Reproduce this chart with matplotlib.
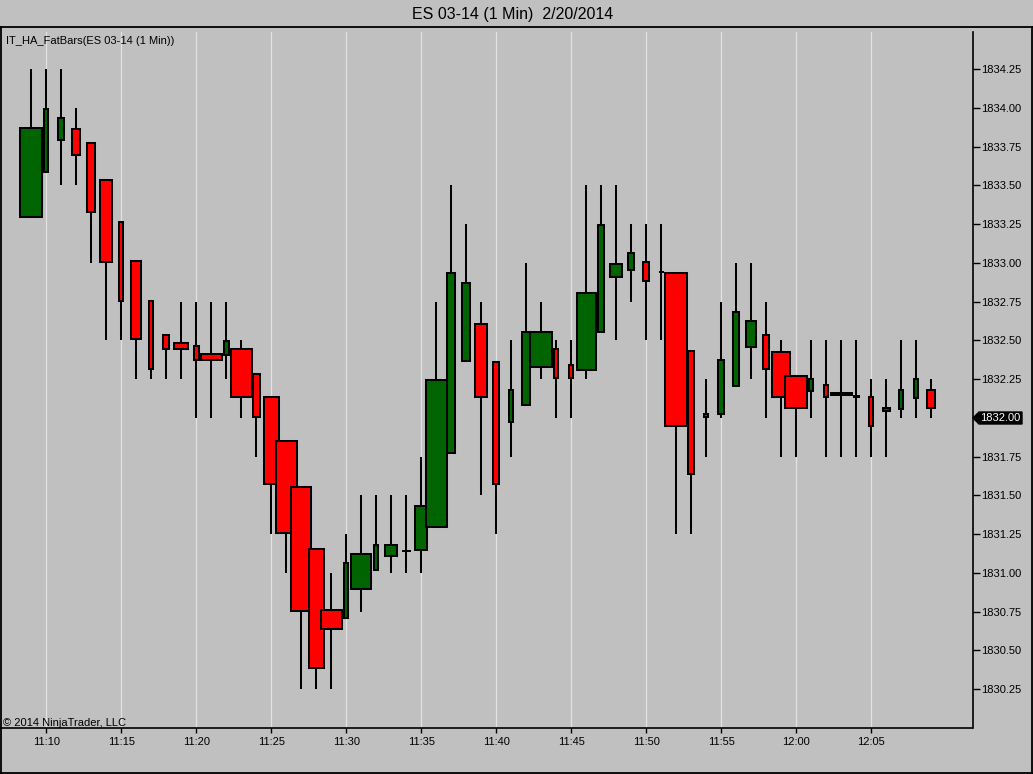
import matplotlib
matplotlib.use("Agg")
import matplotlib.pyplot as plt
from matplotlib.patches import Rectangle, Polygon
from matplotlib.lines import Line2D
from matplotlib.transforms import blended_transform_factory

plt.rcParams['font.family'] = ['Liberation Sans', 'DejaVu Sans']

# ---------------- data ----------------
chart_title = "ES 03-14 (1 Min)  2/20/2014"
indicator_label = "IT_HA_FatBars(ES 03-14 (1 Min))"
copyright_text = "\u00a9 2014 NinjaTrader, LLC"

times = ["11:09", "11:10", "11:11", "11:12", "11:13", "11:14", "11:15", "11:16",
         "11:17", "11:18", "11:19", "11:20", "11:21", "11:22", "11:23", "11:24",
         "11:25", "11:26", "11:27", "11:28", "11:29", "11:30", "11:31", "11:32",
         "11:33", "11:34", "11:35", "11:36", "11:37", "11:38", "11:39", "11:40",
         "11:41", "11:42", "11:43", "11:44", "11:45", "11:46", "11:47", "11:48",
         "11:49", "11:50", "11:51", "11:52", "11:53", "11:54", "11:55", "11:56",
         "11:57", "11:58", "11:59", "12:00", "12:01", "12:02", "12:03", "12:04",
         "12:05", "12:06", "12:07", "12:08", "12:09"]

ha_open = [1833.29, 1833.58, 1833.79, 1833.87, 1833.78, 1833.54, 1833.27, 1833.02,
           1832.76, 1832.54, 1832.49, 1832.47, 1832.42, 1832.40, 1832.45, 1832.29,
           1832.14, 1831.86, 1831.56, 1831.16, 1830.77, 1830.70, 1830.89, 1831.01,
           1831.10, 1831.14, 1831.14, 1831.29, 1831.77, 1832.36, 1832.61, 1832.37,
           1831.97, 1832.08, 1832.32, 1832.45, 1832.35, 1832.30, 1832.55, 1832.90,
           1832.95, 1833.01, 1832.94, 1832.94, 1832.44, 1832.03, 1832.02, 1832.20,
           1832.45, 1832.54, 1832.43, 1832.28, 1832.17, 1832.22, 1832.17, 1832.15,
           1832.14, 1832.04, 1832.05, 1832.12, 1832.19]

ha_close = [1833.88, 1834.00, 1833.94, 1833.69, 1833.32, 1833.00, 1832.75, 1832.50,
            1832.31, 1832.44, 1832.44, 1832.37, 1832.37, 1832.50, 1832.13, 1832.00,
            1831.57, 1831.25, 1830.75, 1830.38, 1830.63, 1831.07, 1831.13, 1831.19,
            1831.19, 1831.14, 1831.44, 1832.25, 1832.94, 1832.88, 1832.13, 1831.57,
            1832.19, 1832.56, 1832.56, 1832.25, 1832.25, 1832.81, 1833.25, 1833.00,
            1833.07, 1832.88, 1832.94, 1831.94, 1831.63, 1832.00, 1832.38, 1832.69,
            1832.63, 1832.31, 1832.13, 1832.06, 1832.26, 1832.13, 1832.14, 1832.13,
            1831.94, 1832.07, 1832.19, 1832.26, 1832.06]

bar_high = [1834.25, 1834.25, 1834.25, 1834.00, 1833.78, 1833.54, 1833.27, 1833.02,
            1832.76, 1832.54, 1832.75, 1832.75, 1832.75, 1832.75, 1832.50, 1832.29,
            1832.14, 1831.86, 1831.56, 1831.16, 1831.00, 1831.25, 1831.50, 1831.50,
            1831.50, 1831.50, 1831.75, 1832.75, 1833.50, 1833.25, 1832.75, 1832.37,
            1832.50, 1833.00, 1832.75, 1832.50, 1832.50, 1833.50, 1833.50, 1833.50,
            1833.25, 1833.25, 1833.25, 1832.94, 1832.44, 1832.25, 1832.75, 1833.00,
            1833.00, 1832.75, 1832.50, 1832.28, 1832.50, 1832.50, 1832.50, 1832.50,
            1832.25, 1832.25, 1832.50, 1832.50, 1832.25]

bar_low = [1833.29, 1833.58, 1833.50, 1833.50, 1833.00, 1832.50, 1832.50, 1832.25,
           1832.25, 1832.25, 1832.25, 1832.00, 1832.00, 1832.25, 1832.00, 1831.75,
           1831.25, 1831.00, 1830.25, 1830.25, 1830.25, 1830.70, 1830.75, 1831.01,
           1831.00, 1831.00, 1831.00, 1831.29, 1831.77, 1832.36, 1831.50, 1831.25,
           1831.75, 1832.08, 1832.25, 1832.00, 1832.00, 1832.25, 1832.55, 1832.50,
           1832.75, 1832.50, 1832.50, 1831.25, 1831.25, 1831.75, 1832.00, 1832.20,
           1832.25, 1832.00, 1831.75, 1831.75, 1832.00, 1831.75, 1831.75, 1831.75,
           1831.75, 1831.75, 1832.00, 1832.00, 1832.00]

# relative bar volume (drives the "fat bar" width)
bar_volume = [23.6, 6.0, 7.7, 9.7, 9.7, 13.7, 6.0, 11.7,
              5.7, 7.7, 16.0, 7.3, 22.7, 7.3, 23.0, 9.0,
              17.3, 23.0, 21.7, 17.3, 23.3, 6.0, 21.7, 5.7,
              13.7, 10.7, 13.7, 23.0, 9.7, 9.7, 13.7, 7.7,
              6.0, 9.7, 23.7, 6.0, 6.0, 21.3, 7.7, 13.7,
              7.7, 7.7, 7.0, 23.7, 7.7, 5.7, 8.0, 8.0,
              12.0, 8.0, 20.0, 23.7, 6.3, 6.3, 23.0, 7.0,
              6.0, 8.7, 6.3, 6.0, 9.7]

y_ticks = [1830.25, 1830.50, 1830.75, 1831.00, 1831.25, 1831.50, 1831.75,
           1832.00, 1832.25, 1832.50, 1832.75, 1833.00, 1833.25, 1833.50,
           1833.75, 1834.00, 1834.25]
last_price = 1832.00

# ---------------- style ----------------
BG = "#C0C0C0"
UP = "#006400"
DOWN = "#FF0000"
GRID = "#E2E2E2"
W, H = 1033, 774
PX_PER_BAR = 15.0
PX_PER_POINT = 155.0

fig = plt.figure(figsize=(W / 100, H / 100), dpi=100, facecolor=BG)
left_px, right_px, top_px, bottom_px = 0.0, 972.5, 32.0, 728.3
ax = fig.add_axes([left_px / W, 1 - bottom_px / H,
                   (right_px - left_px) / W, (bottom_px - top_px) / H])
ax.set_facecolor(BG)

n = len(times)
xs = list(range(n))
ax.set_xlim(-31.3 / PX_PER_BAR, (right_px - 31.3) / PX_PER_BAR)
ax.set_ylim(1832.0 - (bottom_px - 418.0) / PX_PER_POINT,
            1832.0 + (418.0 - top_px) / PX_PER_POINT)

border_px = 2.0
dy_in = (border_px / 2) / PX_PER_POINT
for i in xs:
    o, c, hi, lo = ha_open[i], ha_close[i], bar_high[i], bar_low[i]
    ax.plot([i, i], [lo, hi], color="black", lw=1.45, zorder=2,
            solid_capstyle="butt")
    w = (bar_volume[i] - border_px) / PX_PER_BAR
    top, bot = max(o, c), min(o, c)
    h = max(top - bot - 2 * dy_in, 0.0)
    color = UP if c > o else (DOWN if c < o else "black")
    ax.add_patch(Rectangle((i - w / 2, bot + dy_in if h > 0 else bot), w, h,
                           facecolor=color, edgecolor="black", lw=1.45,
                           zorder=3))

# axes / ticks
tick_idx = [i for i, t in enumerate(times) if int(t[-2:]) % 5 == 0]
ax.set_xticks(tick_idx)
ax.set_xticklabels([times[i] for i in tick_idx])
ax.set_yticks(y_ticks)
ax.set_yticklabels([f"{v:.2f}" for v in y_ticks])
ax.yaxis.tick_right()
ax.set_axisbelow(True)
ax.grid(axis="x", color=GRID, lw=0.9)
ax.grid(axis="y", visible=False)
ax.tick_params(axis="y", direction="out", length=4.7, width=1.0, pad=1.2,
               labelsize=8, colors="black")
ax.tick_params(axis="x", direction="out", length=3.6, width=1.0, pad=2.8,
               labelsize=8, colors="black")
for s in ("top", "left"):
    ax.spines[s].set_visible(False)
for s in ("right", "bottom"):
    ax.spines[s].set_color("black")
    ax.spines[s].set_linewidth(1.2)

# last price marker
btr = blended_transform_factory(ax.transAxes, ax.transData)
ax_w = right_px - left_px
dpy = 6.0 / PX_PER_POINT
x0 = 973.0 / ax_w
x1 = 979.0 / ax_w
x2 = 1022.0 / ax_w
ax.add_patch(Polygon([(x0, last_price), (x1, last_price + dpy), (x2, last_price + dpy),
                      (x2, last_price - dpy), (x1, last_price - dpy)],
                     closed=True, transform=btr, facecolor="black",
                     edgecolor="black", clip_on=False, zorder=10))
ax.text(1000.5 / ax_w, last_price, f"{last_price:.2f}", transform=btr,
        color="white", fontsize=8, ha="center", va="center", clip_on=False,
        zorder=11)

# overlay for frame and texts (pixel coords)
ov = fig.add_axes([0, 0, 1, 1], zorder=5)
ov.set_xlim(0, W)
ov.set_ylim(H, 0)
ov.axis("off")
ov.patch.set_alpha(0)
frame_kw = dict(color="black", lw=1.3)
ov.add_line(Line2D([0, W], [27, 27], **frame_kw))
ov.add_line(Line2D([0.7, 0.7], [27, H], **frame_kw))
ov.add_line(Line2D([W - 1.2, W - 1.2], [27, H], **frame_kw))
ov.add_line(Line2D([0, W], [H - 1, H - 1], **frame_kw))

ov.text(513, 19, chart_title, fontsize=11.5, ha="center", va="baseline",
        color="black")
ov.text(6.5, 44, indicator_label, fontsize=8, ha="left", va="baseline",
        color="black")
ov.text(2.7, 726, copyright_text, fontsize=8, ha="left", va="baseline",
        color="black")

fig.savefig("out.png", dpi=100, facecolor=BG)
